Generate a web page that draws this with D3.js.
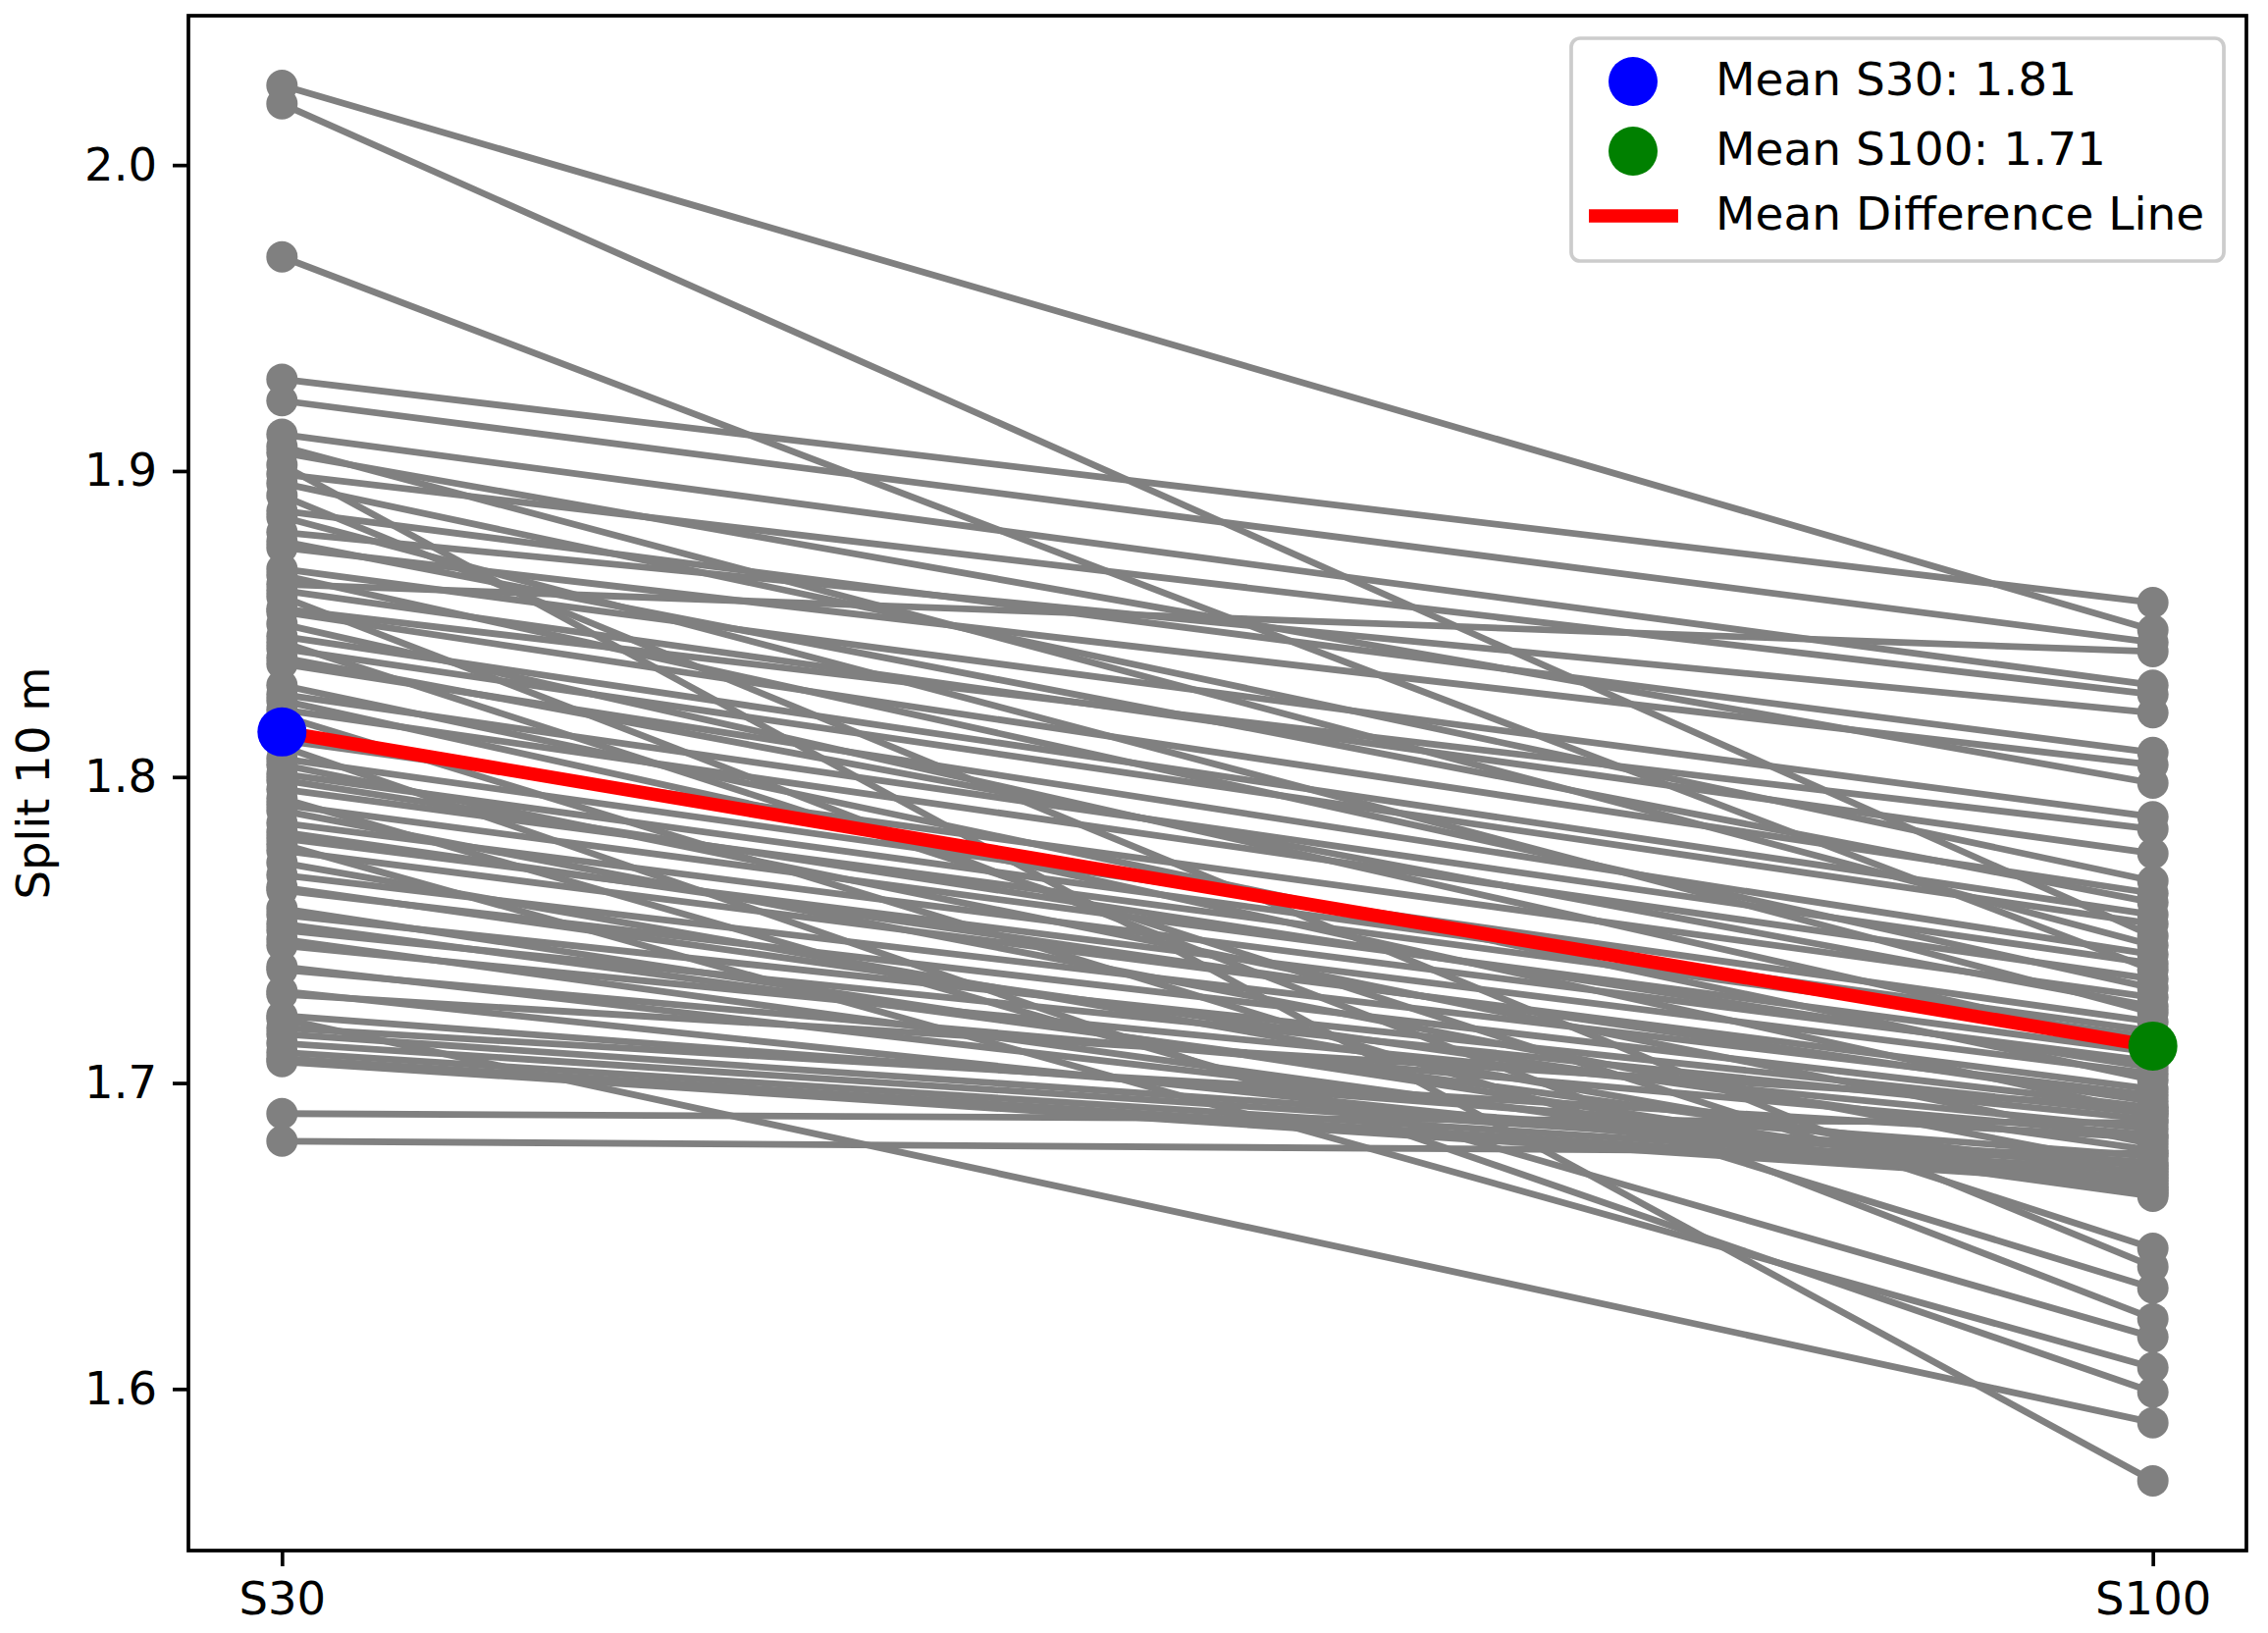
<!DOCTYPE html>
<meta charset="utf-8">
<head>
  <title>Split 10 m, S30 vs S100</title>
</head>

<style>
body { margin: 0; background: #fff; }
text { font-family: "DejaVu Sans", sans-serif; fill: #000; }
.pair { fill: none; stroke: gray; stroke-width: 6.8px; }
.dot { fill: gray; }
.frame { fill: none; stroke: #000; stroke-width: 3.7px; }
.axis path { display: none; }
.axis line { stroke: #000; stroke-width: 3.7px; }
.axis text { font-size: 46.5px; }
.legend-box { fill: #fff; fill-opacity: 0.8; stroke: #cccccc; stroke-width: 3.7px; }
</style>

<body>
<svg width="2311" height="1664"></svg>

<script src="https://cdnjs.cloudflare.com/ajax/libs/d3/7.8.5/d3.min.js"></script>
<script>
// conditions on the x axis
var conditions = ["S30", "S100"];

// one value per athlete, same order in both arrays
var s30 = [2.026, 2.020, 1.970, 1.930, 1.923, 1.912, 1.908, 1.906, 1.902, 1.899,
           1.896, 1.892, 1.887, 1.885, 1.880, 1.877, 1.875, 1.868, 1.866, 1.863,
           1.861, 1.859, 1.855, 1.854, 1.850, 1.846, 1.844, 1.842, 1.839, 1.837,
           1.830, 1.827, 1.825, 1.822, 1.820, 1.812, 1.810, 1.806, 1.804, 1.801,
           1.799, 1.796, 1.793, 1.791, 1.789, 1.785, 1.782, 1.780, 1.778, 1.776,
           1.772, 1.768, 1.764, 1.763, 1.757, 1.755, 1.752, 1.750, 1.747, 1.745,
           1.738, 1.737, 1.730, 1.729, 1.722, 1.721, 1.718, 1.716, 1.713, 1.710,
           1.708, 1.707, 1.690, 1.681];

var s100 = [1.848, 1.748, 1.737, 1.857, 1.844, 1.830, 1.745, 1.798, 1.570, 1.827,
            1.766, 1.640, 1.808, 1.723, 1.821, 1.759, 1.804, 1.787, 1.731, 1.841,
            1.775, 1.623, 1.783, 1.762, 1.712, 1.755, 1.646, 1.752, 1.725, 1.742,
            1.701, 1.739, 1.690, 1.734, 1.633, 1.728, 1.599, 1.720, 1.680, 1.717,
            1.705, 1.715, 1.617, 1.710, 1.672, 1.707, 1.694, 1.703, 1.607, 1.698,
            1.665, 1.696, 1.678, 1.692, 1.664, 1.690, 1.670, 1.688, 1.663, 1.685,
            1.668, 1.683, 1.666, 1.692, 1.676, 1.589, 1.682, 1.674, 1.673, 1.671,
            1.669, 1.667, 1.687, 1.677];

var yTicks = [1.6, 1.7, 1.8, 1.9, 2.0];

var margin = {left: 192, right: 2289, top: 16, bottom: 1580};
var svg = d3.select("svg");

var meanS30 = d3.mean(s30);
var meanS100 = d3.mean(s100);

// matplotlib style 5% margins
var all = s30.concat(s100);
var lo = d3.min(all), hi = d3.max(all), pad = (hi - lo) * 0.05;

var x = d3.scaleLinear().domain([-0.05, 1.05]).range([margin.left, margin.right]);
var y = d3.scaleLinear().domain([lo - pad, hi + pad]).range([margin.bottom, margin.top]);

var plot = svg.append("g");
plot.append("clipPath").attr("id", "clip")
  .append("rect")
  .attr("x", margin.left).attr("y", margin.top)
  .attr("width", margin.right - margin.left)
  .attr("height", margin.bottom - margin.top);

var marks = plot.append("g").attr("clip-path", "url(#clip)");

var pairs = s30.map(function(v, i) { return [v, s100[i]]; });

// every athlete: line then its two markers
var subj = marks.selectAll("g.subject")
  .data(pairs)
  .enter()
  .append("g")
  .attr("class", "subject");

subj.append("line")
  .attr("class", "pair")
  .attr("x1", x(0)).attr("x2", x(1))
  .attr("y1", function(d) { return y(d[0]); })
  .attr("y2", function(d) { return y(d[1]); });

subj.selectAll("circle")
  .data(function(d) { return d; })
  .enter()
  .append("circle")
  .attr("class", "dot")
  .attr("cx", function(d, i) { return x(i); })
  .attr("cy", function(d) { return y(d); })
  .attr("r", 16);

// mean difference line and mean markers
marks.append("line")
  .attr("x1", x(0)).attr("x2", x(1))
  .attr("y1", y(meanS30)).attr("y2", y(meanS100))
  .attr("stroke", "red")
  .attr("stroke-width", 13.7);

marks.append("circle")
  .attr("cx", x(0)).attr("cy", y(meanS30)).attr("r", 25)
  .attr("fill", "blue");
marks.append("circle")
  .attr("cx", x(1)).attr("cy", y(meanS100)).attr("r", 25)
  .attr("fill", "green");

// axes
svg.append("g")
  .attr("class", "axis")
  .attr("transform", "translate(" + margin.left + ",0)")
  .call(d3.axisLeft(y).tickValues(yTicks).tickFormat(d3.format(".1f"))
    .tickSize(16).tickPadding(16));

svg.append("g")
  .attr("class", "axis")
  .attr("transform", "translate(0," + margin.bottom + ")")
  .call(d3.axisBottom(x).tickValues([0, 1])
    .tickFormat(function(d) { return conditions[d]; })
    .tickSize(16).tickPadding(16));

svg.append("rect")
  .attr("class", "frame")
  .attr("x", margin.left).attr("y", margin.top)
  .attr("width", margin.right - margin.left)
  .attr("height", margin.bottom - margin.top);

svg.append("text")
  .attr("transform", "translate(50," + ((margin.top + margin.bottom) / 2) + ") rotate(-90)")
  .attr("text-anchor", "middle")
  .style("font-size", "46.5px")
  .text("Split 10 m");

// legend
var leg = svg.append("g");
leg.append("rect")
  .attr("class", "legend-box")
  .attr("x", 1601).attr("y", 39)
  .attr("width", 665).attr("height", 227)
  .attr("rx", 9).attr("ry", 9);

var items = [
  {label: "Mean S30: " + d3.format(".2f")(meanS30), kind: "dot", color: "blue", y: 83},
  {label: "Mean S100: " + d3.format(".2f")(meanS100), kind: "dot", color: "green", y: 154},
  {label: "Mean Difference Line", kind: "line", color: "red", y: 220}
];

items.forEach(function(it) {
  if (it.kind === "dot") {
    leg.append("circle").attr("cx", 1664).attr("cy", it.y).attr("r", 25).attr("fill", it.color);
  } else {
    leg.append("line").attr("x1", 1619).attr("x2", 1710)
      .attr("y1", it.y).attr("y2", it.y)
      .attr("stroke", it.color).attr("stroke-width", 13.7);
  }
  leg.append("text")
    .attr("x", 1748).attr("y", it.y + 14)
    .style("font-size", "47px")
    .text(it.label);
});
</script>
</body>
</html>
